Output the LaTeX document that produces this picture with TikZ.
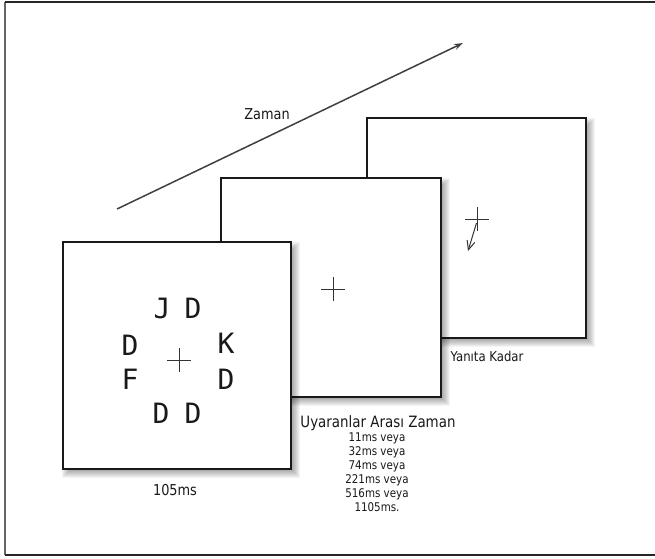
\documentclass[tikz,border=0pt]{standalone}
\usepackage{fontspec}
\setmainfont{DejaVu Sans}[FakeStretch=0.86]
\newfontfamily\letterfont{DejaVu Sans Mono}
\usetikzlibrary{arrows.meta,shapes.misc}

% soft shadow under a frame, then the frame itself as a named node
\newcommand\shadowedframe[5]{%
  \foreach \e in {-5,...,5} {
    \fill[black, opacity=0.042]
      ({#2-#4/2+4-\e},{#3-#5/2+5-\e}) rectangle ({#2+#4/2+4+\e},{#3+#5/2+4+\e});
  }
  \node[screen, minimum width=#4, minimum height=#5] (#1) at (#2,#3) {};
}

\tikzset{
  screen/.style={draw=black!90, fill=white, line width=1.6pt, inner sep=0pt, outer sep=0pt},
  fixcross/.style={cross out, draw=black!80, line width=0.9pt, rotate=45,
                   minimum size=16pt, inner sep=0pt},
  stim/.style={font=\letterfont\fontsize{28}{30}\selectfont, text=black!90, inner sep=0pt},
  label/.style={anchor=base, inner sep=0pt, text=black!90},
  timeline/.style={draw=black!75, line width=1.5pt, -{Stealth[length=9pt,width=6pt]}},
}

\begin{document}
\begin{tikzpicture}[x=1pt,y=-1pt]
\useasboundingbox (0,0) rectangle (655,558);
\fill[white] (0,0) rectangle (655,558);

% outer border
\draw[black!60, line width=1.8pt] (5,2) -- (5,555);
\draw[black!85, line width=1.8pt] (655,2) -- (5,2);
\draw[black!85, line width=1.8pt] (5,555) -- (655,555);

% time axis
\coordinate (tstart) at (117,209);
\coordinate (tend) at (463,43);
\draw[timeline] (tstart) -- (tend);
\node[label, font=\fontsize{15}{18}\selectfont] (zaman) at (267,119) {Zaman};

% three screens, back to front
\shadowedframe{f3}{476.5}{228}{219}{220}
\shadowedframe{f2}{331}{287.5}{220}{219}
\shadowedframe{f1}{177}{355.5}{228}{227}

% screen 1: stimulus letters around fixation
\node[fixcross] (c1) at (179,360) {};
\node[stim] (l1) at (162,308) {J};
\node[stim] (l2) at (193,308) {D};
\node[stim] (l3) at (130,345) {D};
\node[stim] (l4) at (226,343) {K};
\node[stim] (l5) at (130,379) {F};
\node[stim] (l6) at (226,379) {D};
\node[stim] (l7) at (161,413) {D};
\node[stim] (l8) at (193,413) {D};

% screen 2: fixation only
\node[fixcross] (c2) at (333,289) {};

% screen 3: fixation and response arrow
\node[fixcross] (c3) at (477,219) {};
\coordinate (r1) at (476.5,223);
\coordinate (r2) at (468,251);
\draw[black!80, line width=1pt, -{Straight Barb[length=9pt,width=8pt]}] (r1) -- (r2);

% captions
\node[label, font=\fontsize{15}{18}\selectfont] (cap1) at (175,495) {105ms};
\node[label, font=\fontsize{15.6}{18}\selectfont] (cap2) at (378,427) {Uyaranlar Arası Zaman};
\foreach \t [count=\i] in {11ms veya,32ms veya,74ms veya,221ms veya,516ms veya,1105ms.} {
  \node[label, font=\fontsize{12}{14}\selectfont] (isi\i) at (377,{441+14*(\i-1)}) {\t};
}
\node[label, font=\fontsize{13.6}{17}\selectfont] (cap3) at (487,361) {Yanıta Kadar};
\end{tikzpicture}
\end{document}
